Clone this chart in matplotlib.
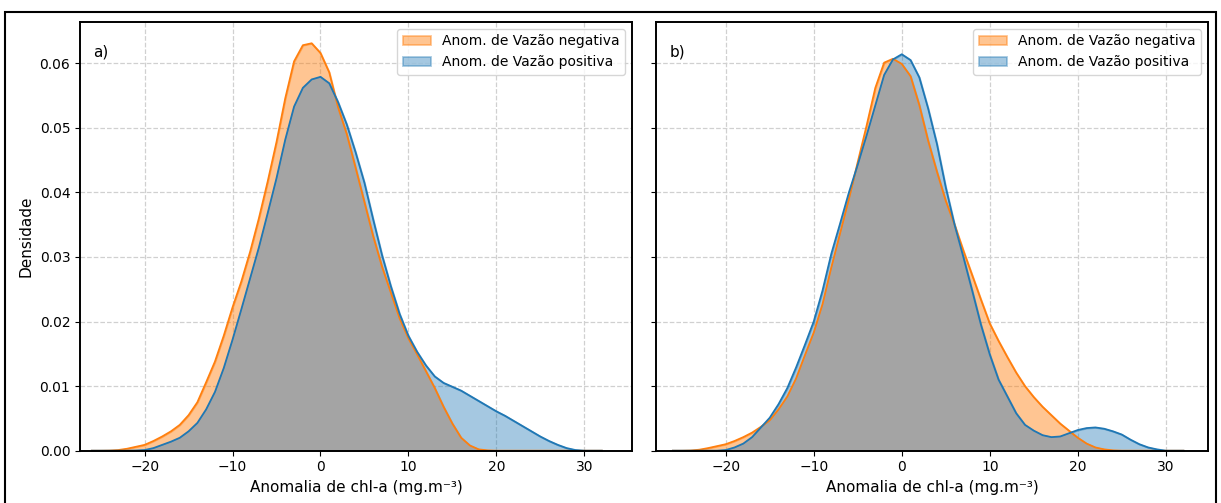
import numpy as np
import matplotlib.pyplot as plt
from matplotlib.patches import Rectangle

# chl-a anomaly grid (mg.m-3) and density values
x_grid = list(range(-26, 33))

# panel a)
dens_a_neg = [0, 0, 0.00002, 0.0001, 0.0003, 0.0006, 0.0009, 0.0015, 0.0022, 0.003,
              0.004, 0.0055, 0.0075, 0.0106, 0.0138, 0.0178, 0.0222, 0.0262, 0.0308,
              0.036, 0.0417, 0.0478, 0.0546, 0.0603, 0.0628, 0.0631, 0.0616, 0.0586,
              0.0532, 0.049, 0.0438, 0.0385, 0.0332, 0.0285, 0.0245, 0.0205, 0.0174,
              0.0149, 0.0123, 0.0097, 0.0068, 0.0042, 0.002, 0.0008, 0.0002, 0.00005,
              0, 0, 0, 0, 0, 0, 0, 0, 0, 0, 0, 0, 0]
dens_a_pos = [0, 0, 0, 0, 0, 0.00003, 0.0001, 0.0004, 0.0009, 0.0014, 0.002, 0.003,
              0.0043, 0.0064, 0.0091, 0.0128, 0.0172, 0.0219, 0.0267, 0.0315, 0.0368,
              0.0422, 0.0482, 0.0533, 0.0562, 0.0575, 0.0579, 0.0569, 0.054, 0.0505,
              0.0462, 0.0415, 0.0358, 0.0303, 0.0255, 0.0212, 0.0178, 0.0153, 0.0132,
              0.0115, 0.0105, 0.0099, 0.0093, 0.0085, 0.0077, 0.0069, 0.0061, 0.0054,
              0.0046, 0.0038, 0.003, 0.0022, 0.0015, 0.0009, 0.0004, 0.0001, 0, 0, 0]

# panel b)
dens_b_neg = [0, 0, 0.00003, 0.00015, 0.0004, 0.0007, 0.001, 0.0015, 0.0021, 0.0028,
              0.0037, 0.0047, 0.0064, 0.0084, 0.0112, 0.0148, 0.0183, 0.0227, 0.0284,
              0.0337, 0.039, 0.0447, 0.0503, 0.0562, 0.0601, 0.0607, 0.0599, 0.058,
              0.0535, 0.048, 0.0432, 0.0387, 0.035, 0.031, 0.0272, 0.0234, 0.0197,
              0.017, 0.0145, 0.0121, 0.01, 0.0083, 0.0068, 0.0055, 0.0042, 0.0031,
              0.002, 0.0011, 0.0005, 0.0002, 0.00005, 0, 0, 0, 0, 0, 0, 0, 0]
dens_b_pos = [0, 0, 0, 0, 0, 0, 0.0001, 0.0005, 0.0011, 0.0021, 0.0036, 0.0051, 0.0072,
              0.0097, 0.0129, 0.0164, 0.02, 0.0248, 0.0305, 0.0352, 0.04, 0.0443,
              0.0488, 0.0535, 0.0582, 0.0606, 0.0614, 0.0605, 0.0578, 0.053, 0.0475,
              0.0408, 0.035, 0.03, 0.0248, 0.0195, 0.0149, 0.011, 0.0084, 0.0058,
              0.004, 0.0031, 0.0024, 0.0021, 0.0022, 0.0027, 0.0032, 0.0035, 0.0036,
              0.0034, 0.003, 0.0025, 0.0017, 0.001, 0.0005, 0.0002, 0, 0, 0]

labels = ['Anom. de Vazão negativa', 'Anom. de Vazão positiva']
panel_tags = ['a)', 'b)']
xlims = [(-27.35, 35.43), (-27.9, 34.8)]

fig = plt.figure(figsize=(12.21, 5.03), dpi=100)
ax1 = fig.add_axes([0.0655, 0.1040, 0.4521, 0.8523])
ax2 = fig.add_axes([0.5374, 0.1040, 0.4520, 0.8523], sharey=ax1)

x = np.array(x_grid)
panels = [(ax1, dens_a_neg, dens_a_pos), (ax2, dens_b_neg, dens_b_pos)]
for i, (ax, neg, pos) in enumerate(panels):
    neg = np.array(neg)
    pos = np.array(pos)
    ax.fill_between(x, neg, color='C1', alpha=0.45, lw=0, label=labels[0])
    ax.plot(x, neg, color='C1', lw=1.3)
    ax.fill_between(x, pos, color='C0', alpha=0.4, lw=0, label=labels[1])
    ax.plot(x, pos, color='C0', lw=1.3)
    # overlap of the two densities
    ax.fill_between(x, np.minimum(neg, pos), color='#a4a4a4', lw=0)

    ax.set_xlim(*xlims[i])
    ax.set_ylim(0, 0.0664)
    ax.set_xticks([-20, -10, 0, 10, 20, 30])
    ax.set_yticks([0, 0.01, 0.02, 0.03, 0.04, 0.05, 0.06])
    ax.grid(True, ls='--', color='#d0d0d0', lw=0.9)
    ax.set_axisbelow(True)
    for sp in ax.spines.values():
        sp.set_linewidth(1.4)
    ax.tick_params(labelsize=10)
    ax.set_xlabel('Anomalia de chl-a (mg.m⁻³)', fontsize=11)
    ax.text(0.024, 0.93, panel_tags[i], transform=ax.transAxes, fontsize=11,
            va='center')

    # legend handles: filled patch with coloured edge
    h, l = ax.get_legend_handles_labels()
    for patch, c in zip(h, ['C1', 'C0']):
        patch.set_edgecolor(c)
        patch.set_linewidth(1.3)
    ax.legend(h, l, loc='upper right', fontsize=10)

ax1.yaxis.set_major_formatter(plt.FormatStrFormatter('%.2f'))
ax1.set_ylabel('Densidade', fontsize=11)
plt.setp(ax2.get_yticklabels(), visible=False)

fig.patches.append(Rectangle((5 / 1221, -0.05), 1211 / 1221, 1.05 - 12 / 503,
                             transform=fig.transFigure, fill=False,
                             edgecolor='black', lw=1.5))

fig.savefig('out.png', dpi=100)
